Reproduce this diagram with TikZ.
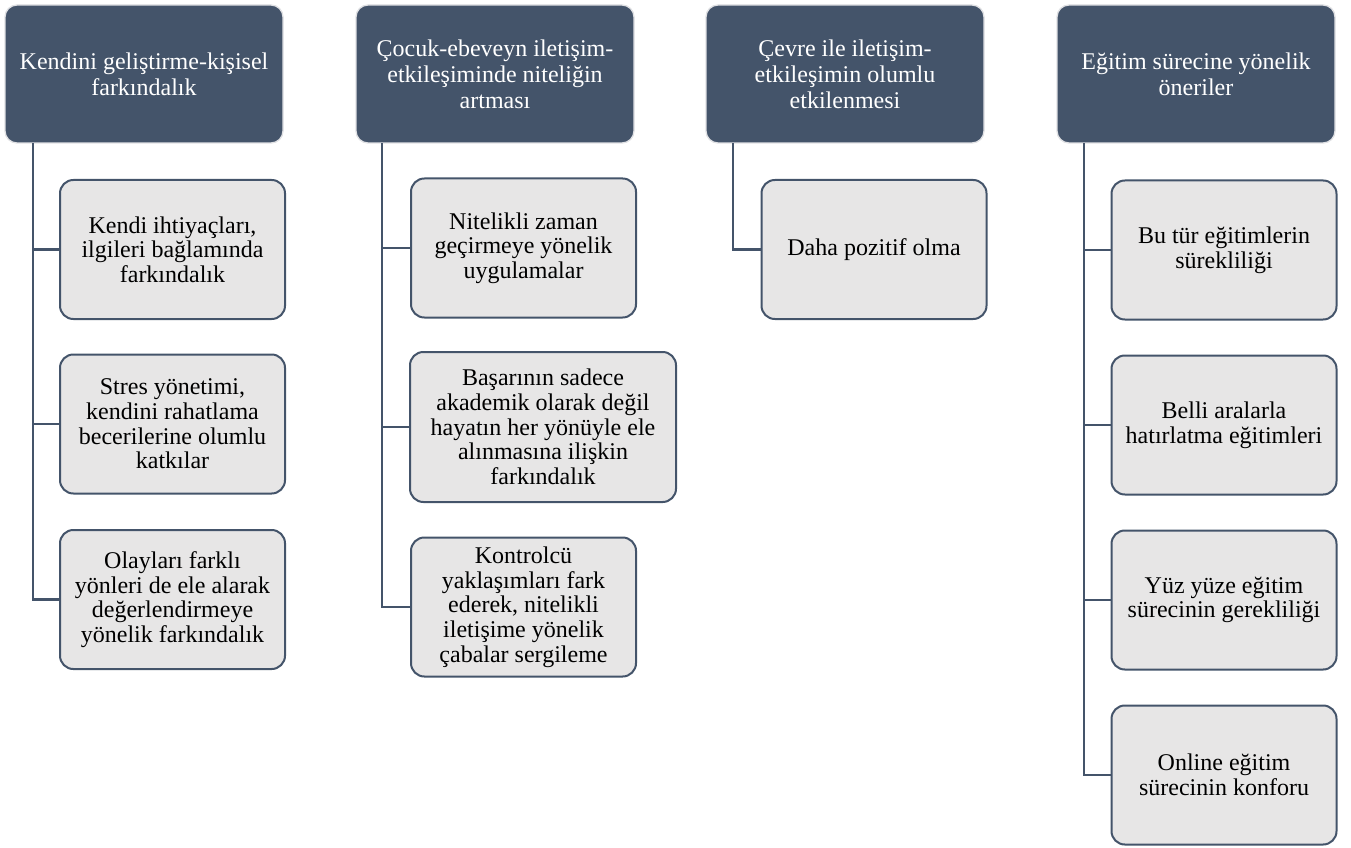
\documentclass[tikz,border=0pt]{standalone}
\usepackage{fontspec}
\setmainfont{Liberation Serif}
\usetikzlibrary{positioning}

\begin{document}
\begin{tikzpicture}[x=0.75pt,y=0.75pt,yscale=-1,xscale=1,
  headbox/.style={draw={rgb, 255:red, 224; green, 225; blue, 228 },line width=1pt,fill={rgb, 255:red, 68; green, 84; blue, 106 },rounded corners=9pt,minimum width=208.5pt,minimum height=103.5pt,align=center,text=white,font=\fontsize{18}{19.5}\selectfont,inner sep=0.75pt},
  itembox/.style={draw={rgb, 255:red, 68; green, 84; blue, 106 },line width=1.5pt,fill={rgb, 255:red, 231; green, 230; blue, 230 },rounded corners=10pt,minimum width=168.75pt,minimum height=104.25pt,align=center,font=\fontsize{18}{18.5}\selectfont,inner sep=0.75pt},
  branch/.style={draw={rgb, 255:red, 68; green, 84; blue, 106 },line width=2pt}]
%set diagram left start at 0, and has height of 848
\useasboundingbox (0,0) rectangle (1351,848);

%Rounded Rect [id:head1]
\draw (144,74) node [headbox] (h1) {Kendini geliştirme-kişisel\\farkındalık};
%Rounded Rect [id:head2]
\draw (495,74) node [headbox] (h2) {Çocuk-ebeveyn iletişim-\\etkileşiminde niteliğin\\artması};
%Rounded Rect [id:head3]
\draw (845,74) node [headbox] (h3) {Çevre ile iletişim-\\etkileşimin olumlu\\etkilenmesi};
%Rounded Rect [id:head4]
\draw (1196,74) node [headbox] (h4) {Eğitim sürecine yönelik\\öneriler};

%Rounded Rect [id:col1]
\draw (172.5,249.5) node [itembox] (k11) {Kendi ihtiyaçları,\\ilgileri bağlamında\\farkındalık};
\draw (172.5,424) node [itembox] (k12) {Stres yönetimi,\\kendini rahatlama\\becerilerine olumlu\\katkılar};
\draw (172.5,599.5) node [itembox] (k13) {Olayları farklı\\yönleri de ele alarak\\değerlendirmeye\\yönelik farkındalık};
%Rounded Rect [id:col2]
\draw (523.5,248) node [itembox] (k21) {Nitelikli zaman\\geçirmeye yönelik\\uygulamalar};
\draw (543,427) node [itembox,minimum width=199.5pt,minimum height=112.5pt] (k22) {Başarının sadece\\akademik olarak değil\\hayatın her yönüyle ele\\alınmasına ilişkin\\farkındalık};
\draw (523.5,607) node [itembox] (k23) {Kontrolcü\\yaklaşımları fark\\ederek, nitelikli\\iletişime yönelik\\çabalar sergileme};
%Rounded Rect [id:col3]
\draw (874,249.5) node [itembox] (k31) {Daha pozitif olma};
%Rounded Rect [id:col4]
\draw (1224,250) node [itembox] (k41) {Bu tür eğitimlerin\\sürekliliği};
\draw (1224,425) node [itembox] (k42) {Belli aralarla\\hatırlatma eğitimleri};
\draw (1224,600) node [itembox] (k43) {Yüz yüze eğitim\\sürecinin gerekliliği};
\draw (1224,775) node [itembox] (k44) {Online eğitim\\sürecinin konforu};

% Trunk start points
\coordinate (t1) at (33,143.5);
\coordinate (t2) at (382,143.5);
\coordinate (t3) at (733,143.5);
\coordinate (t4) at (1084,143.5);

%Straight Lines [id:branch1]
\draw [branch] (t1) |- (k11.west);
\draw [branch] (t1) |- (k12.west);
\draw [branch] (t1) |- (k13.west);
%Straight Lines [id:branch2]
\draw [branch] (t2) |- (k21.west);
\draw [branch] (t2) |- (k22.west);
\draw [branch] (t2) |- (k23.west);
%Straight Lines [id:branch3]
\draw [branch] (t3) |- (k31.west);
%Straight Lines [id:branch4]
\draw [branch] (t4) |- (k41.west);
\draw [branch] (t4) |- (k42.west);
\draw [branch] (t4) |- (k43.west);
\draw [branch] (t4) |- (k44.west);

\end{tikzpicture}
\end{document}
